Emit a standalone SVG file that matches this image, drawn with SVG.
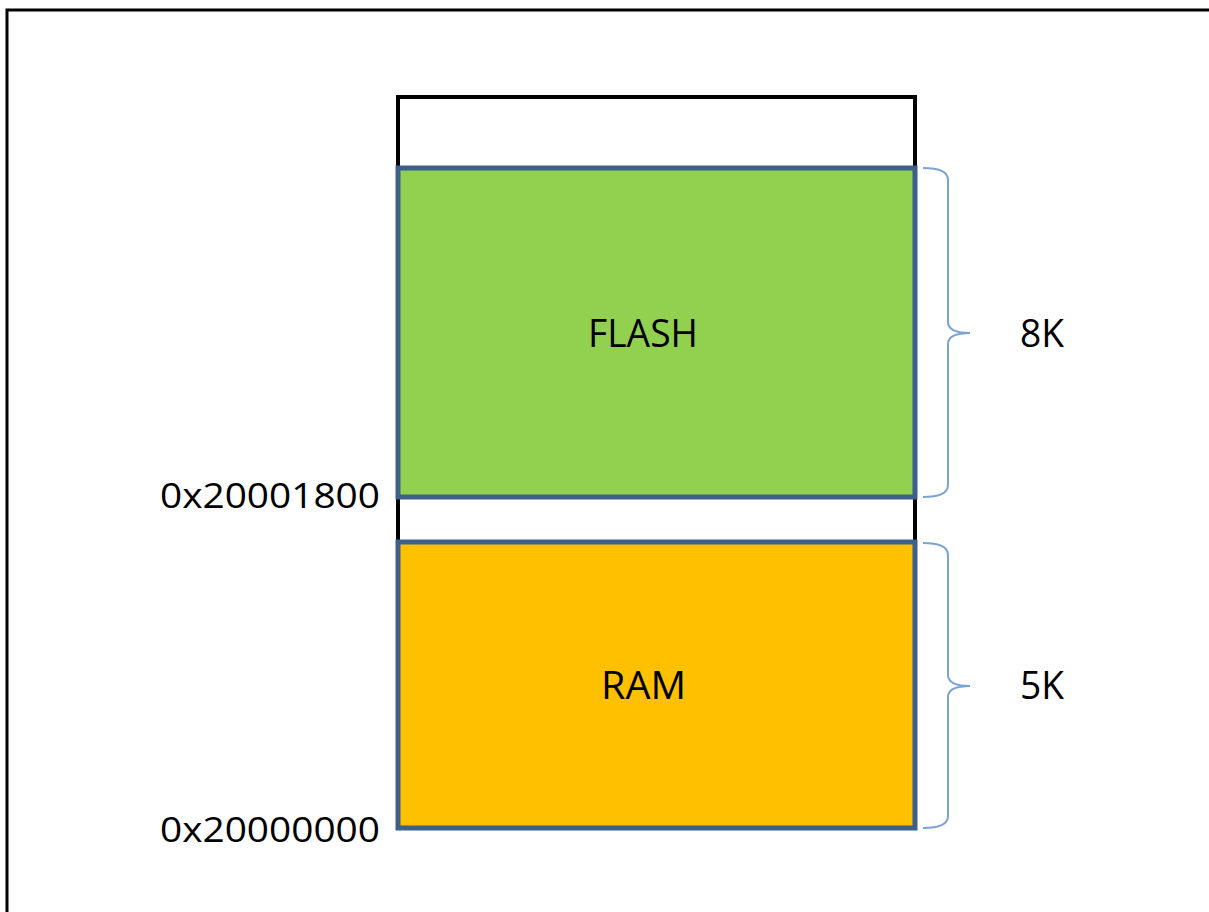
<svg xmlns="http://www.w3.org/2000/svg" width="1209" height="912" viewBox="0 0 1209 912">
<style>
.t{font-family:"Open Sans","Liberation Sans",Arial,sans-serif;font-size:34px;fill:#000}
.l{font-size:38px}
.blk{fill:#92D050;stroke:#3C5F8C;stroke-width:5}
.brace{fill:none;stroke:#7BA3D6;stroke-width:2}
</style>
<rect x="0" y="0" width="1209" height="912" fill="#fff"/>
<rect x="7" y="10" width="1215" height="912" fill="none" stroke="#000" stroke-width="3"/>
<g id="memory">
<rect x="398" y="97" width="517" height="445" fill="#fff" stroke="#000" stroke-width="4"/>
</g>
<g id="flash">
<rect class="blk" x="398" y="168" width="517" height="329"/>
<text class="t l" x="588" y="347" textLength="110" lengthAdjust="spacingAndGlyphs">FLASH</text>
</g>
<g id="ram">
<rect class="blk" x="398" y="542" width="517" height="286" style="fill:#FFC000"/>
<text class="t l" x="601" y="699" textLength="85" lengthAdjust="spacingAndGlyphs">RAM</text>
</g>
<g id="addr1"><text class="t" x="380" y="508" text-anchor="end" textLength="220" lengthAdjust="spacingAndGlyphs">0x20001800</text></g>
<g id="addr0"><text class="t" x="380" y="842" text-anchor="end" textLength="220" lengthAdjust="spacingAndGlyphs">0x20000000</text></g>
<g id="connectors">
<path class="brace" d="M923,168 Q948,168 948,180 L948,322 Q948,333 970,333 Q948,333 948,344 L948,485 Q948,497 923,497"/>
<path class="brace" d="M923,543 Q948,543 948,555 L948,675 Q948,686 970,686 Q948,686 948,697 L948,816 Q948,828 923,828"/>
</g>
<g id="size8k"><text class="t l" x="1020" y="347" textLength="44" lengthAdjust="spacingAndGlyphs">8K</text></g>
<g id="size5k"><text class="t l" x="1020" y="699" textLength="44" lengthAdjust="spacingAndGlyphs">5K</text></g>
</svg>
